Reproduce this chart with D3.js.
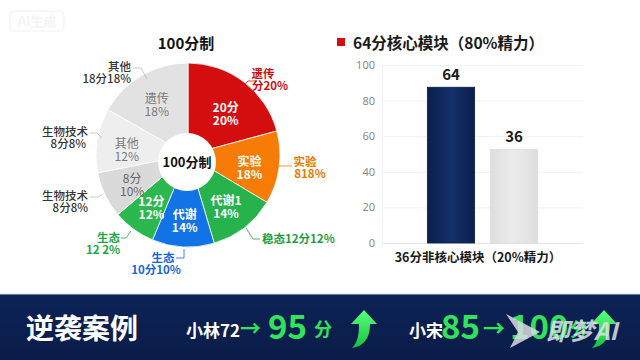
<!DOCTYPE html>
<html><head><meta charset="utf-8">
<script src="https://cdn.jsdelivr.net/npm/d3@7"></script>
<style>
html,body{margin:0;padding:0;background:#fff;}
svg{display:block;font-family:"Noto Sans CJK SC","Noto Sans",sans-serif;}
</style></head>
<body>
<svg id="chart" width="640" height="360"></svg>
<script>
// ---------- DATA ----------
const donutTitle = "100分制";
const sliceNames = ["遗传", "实验", "代谢1", "代谢", "生态", "生物技术", "其他", "遗传(灰)"];
const sliceValues = [20.8, 12.8, 11.8, 10.9, 7.5, 8.1, 11.3, 16.8];
const innerLine1 = ["20分", "实验", "代谢1", "代谢", "12分", "8分", "其他", "遗传"];
const innerLine2 = ["20%", "18%", "14%", "14%", "12%", "10%", "12%", "18%"];
const outerLine1 = ["遗传", "实验", "稳态12分12%", "生态", "生态", "生物技术", "生物技术", "其他"];
const outerLine2 = ["分20%", "818%", "", "10分10%", "12 2%", "8分8%", "8分8%", "18分18%"];

const barCategories = ["64分核心模块", "36分非核心模块"];
const barValues = [87.5, 52.6];
const barLabels = ["64", "36"];
const yTicks = [0, 20, 40, 60, 80, 100];
const legendText = "64分核心模块（80%精力）";
const xAxisText = "36分非核心模块（20%精力）";

const bannerTitle = "逆袭案例";
const caseA = {name: "小林72", from: "", to: "95", unit: "分"};
const caseB = {name: "小宋", from: "85", to: "100", unit: "分"};

// ---------- STYLE / LAYOUT ----------
const sliceColors = ["#d40e0e", "#f67c06", "#27b34c", "#1273e6", "#2bb84f", "#dadada", "#eeeeee", "#e2e2e2"];
const innerTextColors = ["#fff", "#fff", "#fff", "#fff", "#fff", "#666", "#7a7a7a", "#7a7a7a"];
const outerColors = ["#cc1010", "#e67a00", "#1f9e44", "#1466d8", "#1fa647", "#333", "#333", "#333"];
const innerShift = [7, 3, 2, 3, 2, 2, 4, 3];
// outer label layout: text x, baseline y of first line, anchor, leader polyline
const outerLayout = [
  {x: 263, y: 78, a: "middle", dy2: 12, x2: 270, line: [[242, 88], [248, 81], [257, 81]]},
  {x: 305, y: 166, a: "middle", dy2: 12, x2: 310, line: [[279, 166], [292, 166]]},
  {x: 262, y: 243, a: "start", dy2: 0, x2: 262, line: [[246, 228], [253, 239], [260, 239]]},
  {x: 163, y: 262, a: "middle", dy2: 12, x2: 156, line: [[184, 249], [184, 258], [176, 258]]},
  {x: 120, y: 242, a: "end", dy2: 12, x2: 120, line: [[121, 238], [126, 238], [131, 231]]},
  {x: 88, y: 200, a: "end", dy2: 12, x2: 88, line: [[90, 197], [98, 197], [103, 194]]},
  {x: 88, y: 136, a: "end", dy2: 12, x2: 86, line: [[90, 133], [97, 133], [102, 138]]},
  {x: 131, y: 71, a: "end", dy2: 12, x2: 131, line: [[133, 68], [141, 68], [147, 79]]}
];

const svg = d3.select("#chart");
const defs = svg.append("defs");

// faint "AI生成" tag top-left
svg.append("rect").attr("x", 10).attr("y", 11).attr("width", 54).attr("height", 20).attr("rx", 5)
  .attr("fill", "none").attr("stroke", "#f2f2f2").attr("stroke-width", 1.2);
svg.append("text").attr("x", 37).attr("y", 26).attr("text-anchor", "middle")
  .attr("font-size", 13).attr("font-weight", 700).attr("fill", "#f4f4f4").text("AI生成");

// ---------- DONUT ----------
const cx = 188, cy = 155, R = 92;
const g = svg.append("g").attr("transform", `translate(${cx},${cy})`);
const pie = d3.pie().sort(null).value(d => d);
const arcs = pie(sliceValues);
const arc = d3.arc().innerRadius(0).outerRadius(R);
const labelArc = d3.arc().innerRadius(62).outerRadius(62);

g.selectAll("path.slice").data(arcs).join("path").attr("class", "slice")
  .attr("d", arc).attr("fill", (d, i) => sliceColors[i])
  .attr("stroke", "#fff").attr("stroke-width", 0.8);

// center hole (slightly lower than outer centre like the reference)
svg.append("circle").attr("cx", cx - 1).attr("cy", cy + 7).attr("r", 29).attr("fill", "#fff");
svg.append("text").attr("x", cx - 1).attr("y", cy + 12).attr("text-anchor", "middle")
  .attr("font-size", 13).attr("font-weight", 700).attr("fill", "#111").text(donutTitle);

arcs.forEach((d, i) => {
  const [lx, ly0] = labelArc.centroid(d);
  const ly = ly0 + innerShift[i];
  const gray = innerTextColors[i] !== "#fff";
  const t = g.append("text").attr("text-anchor", "middle")
    .attr("font-size", 12).attr("font-weight", gray ? 400 : 700).attr("fill", innerTextColors[i]);
  t.append("tspan").attr("x", lx).attr("y", ly - 1).text(innerLine1[i]);
  t.append("tspan").attr("x", lx).attr("y", ly + 12).text(innerLine2[i]);
});

// outer labels
const lineGen = d3.line();
arcs.forEach((d, i) => {
  const L = outerLayout[i];
  svg.append("path").attr("d", lineGen(L.line)).attr("fill", "none")
    .attr("stroke", i >= 5 ? "#bbb" : outerColors[i]).attr("stroke-width", 0.8);
  const t = svg.append("text").attr("text-anchor", L.a).attr("font-size", 11.5)
    .attr("font-weight", i >= 5 ? 500 : 700).attr("fill", outerColors[i]);
  t.append("tspan").attr("x", L.x).attr("y", L.y).text(outerLine1[i]);
  if (outerLine2[i]) t.append("tspan").attr("x", L.x2).attr("y", L.y + L.dy2).text(outerLine2[i]);
});

svg.append("text").attr("x", 186).attr("y", 49).attr("text-anchor", "middle")
  .attr("font-size", 15).attr("font-weight", 700).attr("fill", "#111").text(donutTitle);

// ---------- BAR CHART ----------
const px0 = 382, px1 = 583, py0 = 243, py1 = 65;
const x = d3.scaleBand().domain(barCategories).range([px0, px1]).paddingInner(0.25).paddingOuter(0.72);
const y = d3.scaleLinear().domain([0, 100]).range([py0, py1]);

const grad = defs.append("linearGradient").attr("id", "navy").attr("x1", 0).attr("x2", 1).attr("y1", 0).attr("y2", 0);
grad.append("stop").attr("offset", "0%").attr("stop-color", "#0b1f4d");
grad.append("stop").attr("offset", "50%").attr("stop-color", "#14306b");
grad.append("stop").attr("offset", "100%").attr("stop-color", "#0b1f4d");
const grad2 = defs.append("linearGradient").attr("id", "grayb").attr("x1", 0).attr("x2", 1).attr("y1", 0).attr("y2", 0);
grad2.append("stop").attr("offset", "0%").attr("stop-color", "#dedede");
grad2.append("stop").attr("offset", "50%").attr("stop-color", "#ebebeb");
grad2.append("stop").attr("offset", "100%").attr("stop-color", "#dedede");

const yAxis = d3.axisLeft(y).tickValues(yTicks).tickSize(-(px1 - px0)).tickPadding(7);
const ya = svg.append("g").attr("transform", `translate(${px0},0)`).call(yAxis);
ya.select(".domain").remove();
ya.selectAll(".tick line").attr("stroke", "#eef1f5").attr("stroke-width", 1);
ya.selectAll(".tick text").attr("fill", "#8a8a8a").attr("font-size", 11)
  .attr("font-family", "'Noto Sans','Noto Sans CJK SC',sans-serif");
svg.append("line").attr("x1", px0).attr("x2", px1).attr("y1", py0 + 0.5).attr("y2", py0 + 0.5)
  .attr("stroke", "#e3e6ea");
svg.append("line").attr("x1", px0 + 0.5).attr("x2", px0 + 0.5).attr("y1", py1).attr("y2", py0)
  .attr("stroke", "#eef1f5");

svg.selectAll("rect.bar").data(barValues).join("rect").attr("class", "bar")
  .attr("x", (d, i) => x(barCategories[i])).attr("width", x.bandwidth())
  .attr("y", d => y(d)).attr("height", d => py0 - y(d))
  .attr("fill", (d, i) => i === 0 ? "url(#navy)" : "url(#grayb)")
  .attr("stroke", (d, i) => i === 0 ? "#0a1c45" : "#dcdcdc").attr("stroke-width", 0.8);

svg.selectAll("text.blab").data(barValues).join("text").attr("class", "blab")
  .attr("x", (d, i) => x(barCategories[i]) + x.bandwidth() / 2).attr("y", d => y(d) - 7)
  .attr("text-anchor", "middle").attr("font-size", 15).attr("font-weight", 700).attr("fill", "#1a1a1a")
  .text((d, i) => barLabels[i]);

svg.append("text").attr("x", 478).attr("y", 262).attr("text-anchor", "middle")
  .attr("font-size", 12.5).attr("font-weight", 700).attr("fill", "#1a1a1a").text(xAxisText);

svg.append("rect").attr("x", 337).attr("y", 38).attr("width", 8).attr("height", 8).attr("fill", "#d40e0e");
svg.append("text").attr("x", 353).attr("y", 49).attr("font-size", 15.5).attr("font-weight", 700)
  .attr("fill", "#1a1a1a").text(legendText);

// ---------- BANNER ----------
const bg = defs.append("linearGradient").attr("id", "banner").attr("x1", 0).attr("x2", 0).attr("y1", 0).attr("y2", 1);
bg.append("stop").attr("offset", "0%").attr("stop-color", "#0d2356");
bg.append("stop").attr("offset", "100%").attr("stop-color", "#0a1c48");
svg.append("rect").attr("x", 0).attr("y", 294).attr("width", 640).attr("height", 66).attr("fill", "url(#banner)");
svg.append("line").attr("x1", 0).attr("x2", 640).attr("y1", 294).attr("y2", 294).attr("stroke", "#d5dbe6");

const green = "#2fe35a";
svg.append("text").attr("x", 26).attr("y", 339).attr("font-size", 28).attr("font-weight", 700)
  .attr("fill", "#fff").text(bannerTitle);

function txt(xp, yp, size, color, s) {
  svg.append("text").attr("x", xp).attr("y", yp).attr("font-size", size).attr("font-weight", 700)
    .attr("fill", color).text(s);
}
txt(186, 337, 17, "#fff", caseA.name);
txt(240, 336, 21, green, "→");
txt(268, 339, 33, green, caseA.to);
txt(314, 336, 18, green, caseA.unit);
txt(409, 337, 17, "#fff", caseB.name);
txt(441, 339, 33, green, caseB.from);
txt(483, 336, 22, green, "→");
txt(510, 339, 33, green, caseB.to);
txt(570, 336, 18, green, caseB.unit);

const ag = defs.append("linearGradient").attr("id", "arr").attr("x1", 0).attr("x2", 0).attr("y1", 0).attr("y2", 1);
ag.append("stop").attr("offset", "0%").attr("stop-color", "#5bff7c");
ag.append("stop").attr("offset", "100%").attr("stop-color", "#14c23e");
const arrowPath = "M14,0 L27,14 L20,14 C20,28 14,36 2,38 C8,32 9,24 9,14 L1,14 Z";
[[350, 310], [590, 310]].forEach(p => {
  svg.append("path").attr("d", arrowPath).attr("transform", `translate(${p[0]},${p[1]})`)
    .attr("fill", "url(#arr)");
});

// watermark
const wm = svg.append("g").attr("opacity", 0.85);
wm.append("path").attr("d", "M506,314 L540,332 L510,348 L518,332 Z").attr("fill", "#d9dce3");
wm.append("text").attr("x", 546).attr("y", 340).attr("font-size", 24).attr("font-weight", 700)
  .attr("font-style", "italic").attr("fill", "#dfe2e8").text("即梦AI");
</script>
</body></html>
